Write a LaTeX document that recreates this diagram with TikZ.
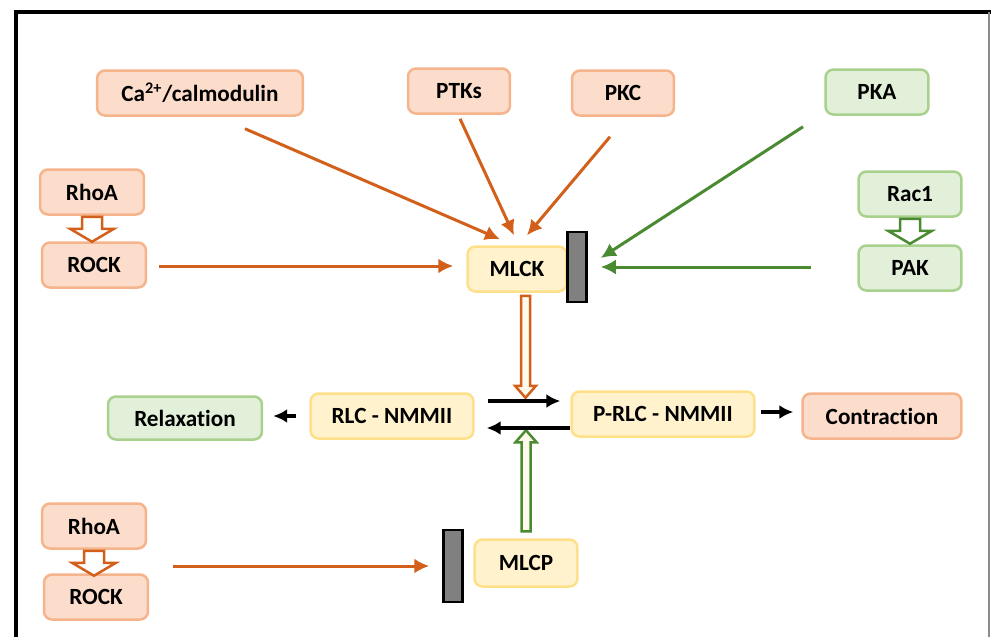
\documentclass[tikz,border=0pt]{standalone}
\usepackage{fontspec}
\setmainfont[Ligatures={NoCommon}]{Carlito}
\usepackage{tikz}
\usetikzlibrary{positioning,arrows.meta,calc}
\definecolor{orfill}{HTML}{FCDDCC}
\definecolor{orline}{HTML}{F6B48C}
\definecolor{ordark}{HTML}{D2601A}
\definecolor{grfill}{HTML}{E2F0D9}
\definecolor{grline}{HTML}{A9D18E}
\definecolor{grdark}{HTML}{4A8A30}
\definecolor{yefill}{HTML}{FFF2CC}
\definecolor{yeline}{HTML}{FFE08A}

\begin{document}
\begin{tikzpicture}[x=0.02cm, y=-0.02cm,
    box/.style={rounded corners=0.16cm, line width=0.05cm, minimum height=0.9cm, inner sep=0pt,
      font=\bfseries\fontsize{13.2}{15}\selectfont},
    obox/.style={box, draw=orline, fill=orfill},
    gbox/.style={box, draw=grline, fill=grfill},
    ybox/.style={box, draw=yeline, fill=yefill},
    inhib/.style={draw=black, fill=black!50, line width=0.05cm, minimum width=0.38cm, inner sep=0pt},
    oarrow/.style={draw=ordark, line width=0.06cm, -{Latex[length=0.3cm,width=0.3cm]}},
    garrow/.style={draw=grdark, line width=0.06cm, -{Latex[length=0.3cm,width=0.3cm]}},
    barrow/.style={draw=black, line width=0.07cm, -{Latex[length=0.28cm,width=0.28cm]}},
    fatarrow/.style={line width=0.05cm, fill=white, line join=miter}]
    \useasboundingbox (0,0) rectangle (991,637);
    % frame
    \draw[line width=0.08cm] (14,12) -- (991,12);
    \draw[line width=0.08cm] (16,12) -- (16,637);
    \draw[black!45, line width=0.03cm] (989,12) -- (989,637);

    % upstream regulators
    \node[obox, minimum width=4.12cm] (ca) at (200,93) {Ca\textsuperscript{2+}/calmodulin};
    \node[obox, minimum width=2.04cm] (ptks) at (459,91) {PTKs};
    \node[obox, minimum width=2.04cm] (pkc) at (623,93) {PKC};
    \node[gbox, minimum width=2.06cm] (pka) at (877,92) {PKA};
    \node[obox, minimum width=2.08cm] (rhoa) at (92,192) {RhoA};
    \node[obox, minimum width=2.08cm] (rock) at (94,265) {ROCK};
    \node[gbox, minimum width=2.06cm] (rac) at (910,194) {Rac1};
    \node[gbox, minimum width=2.06cm] (pak) at (910,268) {PAK};

    % kinase and its block
    \node[ybox, minimum width=1.98cm] (mlck) at (517,269) {MLCK};
    \node[inhib, minimum height=1.4cm] (mlckbar) at (577,267) {};

    % light chain states
    \node[ybox, minimum width=3.26cm] (rlc) at (392,416) {RLC - NMMII};
    \node[ybox, minimum width=3.66cm] (prlc) at (663,414) {P-RLC - NMMII};
    \node[gbox, minimum width=3.08cm, minimum height=0.86cm] (relax) at (185,418) {Relaxation};
    \node[obox, minimum width=3.18cm] (contr) at (882,416) {Contraction};

    % phosphatase branch
    \node[obox, minimum width=2.08cm] (rhoab) at (94,526) {RhoA};
    \node[obox, minimum width=2.08cm] (rockb) at (96,597) {ROCK};
    \node[inhib, minimum height=1.44cm] (mlcpbar) at (453,566) {};
    \node[ybox, minimum width=2.06cm, minimum height=0.94cm] (mlcp) at (526,563) {MLCP};

    % activation of MLCK
    \draw[oarrow] ($(ca.south)+(45,12)$) -- ($(mlck.north)+(-17,-6)$);
    \draw[oarrow] ($(ptks.south)+(1,4)$) -- ($(mlck.north)+(-3,-10)$);
    \draw[oarrow] ($(pkc.south)+(-13,20)$) -- ($(mlck.north)+(10,-10)$);
    \draw[oarrow] ($(rock.east)+(12,1)$) -- ($(mlck.west)+(-13,-3)$);
    \draw[garrow] ($(pka.south)+(-74,11)$) -- ($(mlckbar.east)+(13,-9)$);
    \draw[garrow] ($(pak.west)+(-46,-1)$) -- ($(mlckbar.east)+(13,0)$);
    \draw[oarrow] ($(rockb.east)+(24,-31)$) -- ($(mlcpbar.west)+(-13,0)$);

    % block arrows between stacked boxes
    \foreach \top/\col in {rhoa/ordark, rhoab/ordark, rac/grdark}
      \draw[fatarrow, draw=\col] ($(\top.south)+(-10,1)$) -- ++(0,12) -- ++(-12,0) -- ++(22,13)
        -- ++(22,-13) -- ++(-12,0) -- ++(0,-12) -- cycle;

    % MLCK phosphorylates, MLCP dephosphorylates
    \draw[fatarrow, draw=ordark, fill=yefill!40] ($(mlck.south)+(4,3)$) -- ++(0,90) -- ++(-6,0) -- ++(10.5,12)
      -- ++(10.5,-12) -- ++(-6,0) -- ++(0,-90) -- cycle;
    \draw[fatarrow, draw=grdark, fill=yefill!40] ($(mlcp.north)+(-4.5,-7)$) -- ++(0,-89) -- ++(-6,0) -- ++(10.5,-12)
      -- ++(10.5,12) -- ++(-6,0) -- ++(0,89) -- cycle;

    % equilibrium and outcomes
    \draw[barrow] ($(rlc.east)+(13,-15)$) -- ($(prlc.west)+(-10,-13)$);
    \draw[barrow] ($(prlc.west)+(0,14)$) -- ($(rlc.east)+(12,12)$);
    \draw[barrow] ($(rlc.west)+(-13,0)$) -- ($(relax.east)+(10,-2)$);
    \draw[barrow] ($(prlc.east)+(5,-2)$) -- ($(contr.west)+(-8,-4)$);
\end{tikzpicture}
\end{document}
